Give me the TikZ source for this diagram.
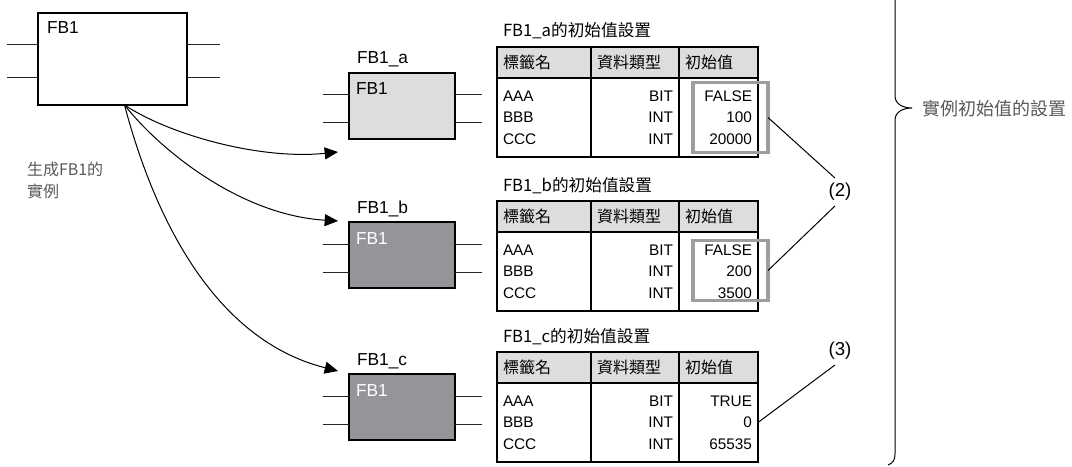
\documentclass[tikz,border=0pt]{standalone}
\usepackage{fontspec}
\setmainfont{Liberation Sans}
\newfontfamily\cjk{Noto Sans CJK TC}
\usetikzlibrary{arrows.meta}
\definecolor{lightfill}{HTML}{DCDDDE}
\definecolor{darkfill}{HTML}{939598}
\definecolor{hilitegray}{HTML}{9C9EA1}
\definecolor{notegray}{HTML}{58595B}

\begin{document}
\begin{tikzpicture}[
  x=0.75pt, y=-0.75pt,
  every node/.style={inner sep=0pt, outer sep=0pt},
  fbbox/.style={rectangle, draw=black, line width=0.8pt, anchor=north west, minimum width=79.5pt, minimum height=49.5pt},
  fblbl/.style={font=\fontsize{13}{15}\selectfont, anchor=base west},
  wire/.style={line width=0.75pt, black!85},
  hcell/.style={rectangle, draw=black, line width=0.8pt, fill=lightfill, anchor=north west, minimum height=23.25pt, inner xsep=4.5pt, align=left, font=\cjk\fontsize{12}{14}\selectfont},
  bcell/.style={rectangle, draw=black, line width=0.8pt, anchor=north west, minimum height=59.25pt, inner xsep=4.5pt, font=\fontsize{11.5}{16}\selectfont},
  c1/.style={text width=61.5pt},
  c2/.style={text width=57pt},
  c3/.style={text width=50.25pt},
  tabtitle/.style={font=\cjk\fontsize{12.5}{14}\selectfont, anchor=base west},
  hilite/.style={rectangle, draw=hilitegray, line width=2.5pt, minimum width=56.25pt},
  callout/.style={line width=0.75pt},
  numlbl/.style={font=\fontsize{14}{16}\selectfont, inner sep=4pt},
  gen/.style={-{Triangle[length=10pt,width=9pt]}, line width=0.75pt}
]
\useasboundingbox (0,0) rectangle (1072,467);

% FB1 定義
\node[fbbox, minimum width=111.75pt, minimum height=69pt] (fb) at (38,13) {};
\node[fblbl] (fbname) at ([shift={(9,21)}]fb.north west) {FB1};
\foreach \dy in {32,65} {
  \draw[wire] ([shift={(0,\dy)}]fb.north west) -- ++(-31,0);
  \draw[wire] ([shift={(0,\dy)}]fb.north east) -- ++(33,0);
}

% 實例與初始值表格
\foreach \n/\yb/\yt/\fc/\tc/\va/\vb/\vc in {a/73/47/lightfill/black/FALSE/100/20000, b/222/201/darkfill/white/FALSE/200/3500, c/374/352/darkfill/white/TRUE/0/65535} {
  \node[fbbox, fill=\fc] (box\n) at (349,\yb) {};
  \node[fblbl] (name\n) at ([shift={(8,-9)}]box\n.north west) {FB1\_\n};
  \node[fblbl, text=\tc] (inner\n) at ([shift={(7,22)}]box\n.north west) {FB1};
  \foreach \dy in {22,50} {
    \draw[wire] ([shift={(0,\dy)}]box\n.north west) -- ++(-26,0);
    \draw[wire] ([shift={(0,\dy)}]box\n.north east) -- ++(27,0);
  }
  \node[tabtitle] (title\n) at (503,\yt-10) {FB1\_\n{}的初始值設置};
  \node[hcell, c1] (hdA\n) at (497,\yt) {標籤名};
  \node[hcell, c2] (hdB\n) at (hdA\n.north east) {資料類型};
  \node[hcell, c3] (hdC\n) at (hdB\n.north east) {初始值};
  \node[bcell, c1, align=left] (tag\n) at (hdA\n.south west) {AAA\\BBB\\CCC};
  \node[bcell, c2, align=right] (type\n) at (hdB\n.south west) {BIT\\INT\\INT};
  \node[bcell, c3, align=right] (val\n) at (hdC\n.south west) {\va\\\vb\\\vc};
}

% 生成實例
\coordinate (src) at ([shift={(12,0)}]fb.south);
\draw[gen] (src) .. controls (170,135) and (260,160) .. ([shift={(-11,13)}]boxa.south west);
\draw[gen] (src) .. controls (160,150) and (240,215) .. ([shift={(-11,-1)}]boxb.north west);
\draw[gen] (src) .. controls (155,220) and (215,340) .. ([shift={(-11,-3)}]boxc.north west);
\node[font=\cjk\fontsize{12}{16.5}\selectfont, text=notegray, align=left, anchor=north west] (gen) at (27,162) {生成FB1的\\實例};

% 變更的初始值
\node[hilite, minimum height=52.5pt] (hla) at ([shift={(12,0)}]vala.center) {};
\node[hilite, minimum height=45pt] (hlb) at ([shift={(12,-1)}]valb.center) {};
\node[numlbl] (two) at (840,192) {(2)};
\node[numlbl] (three) at (840,351) {(3)};
\draw[callout] (hla.east) -- (two.110);
\draw[callout] (two.250) -- (hlb.east);
\draw[callout] (three.250) -- (valc.east);

% 大括號
\draw[line width=0.75pt] (895,-5) -- (895,96) .. controls (895,104) and (903,108) .. (912,108) .. controls (903,108) and (895,112) .. (895,120) -- (895,454) .. controls (895,460) and (893,463) .. (888,465);
\node[font=\cjk\fontsize{13.5}{16}\selectfont, text=notegray, anchor=west] (brtext) at (922,109) {實例初始值的設置};
\end{tikzpicture}
\end{document}
